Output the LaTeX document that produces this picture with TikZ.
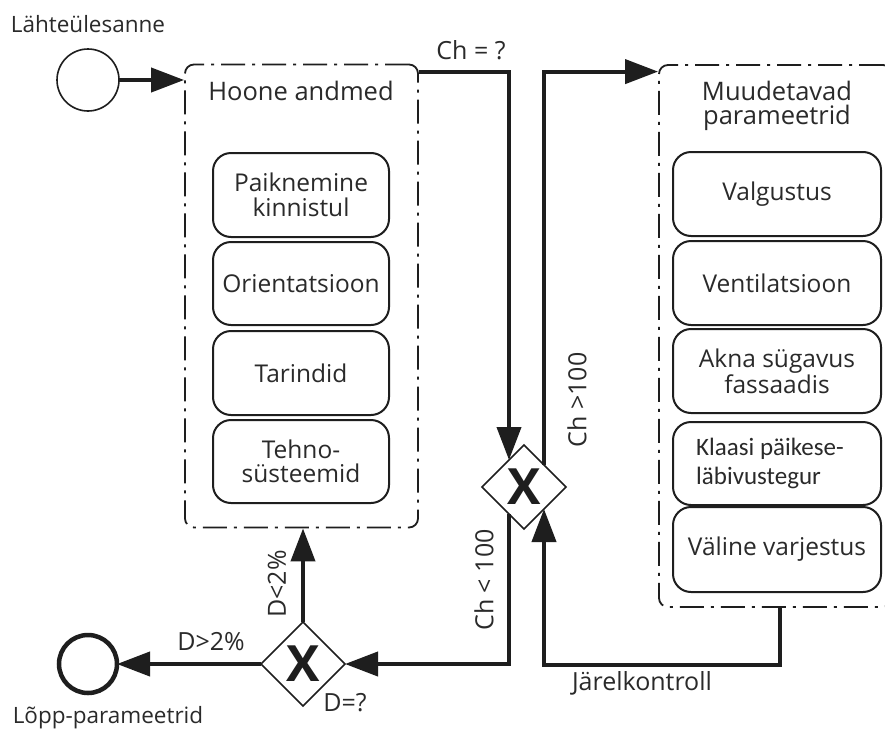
\documentclass[tikz,border=0pt]{standalone}
\usepackage{fontspec}
\setmainfont{Open Sans}
\newfontfamily\klaasifont{Carlito}
\usetikzlibrary{arrows.meta,shapes.geometric,calc}
\definecolor{ink}{HTML}{1E1E1E}
\definecolor{tc}{HTML}{2A2A2A}
\newcommand\mytxt{\fontsize{24.5}{24.5}\selectfont}
\newcommand\mytitletxt{\fontsize{25.5}{24.5}\selectfont}
\newcommand\mylbltxt{\fontsize{22.5}{24}\selectfont}
\newcommand\mybiglbl{\fontsize{25}{24}\selectfont}
\newcommand\mygatex{\fontsize{50}{50}\selectfont\bfseries}
\tikzset{
  conn/.style={draw=ink, line width=4pt, -{Triangle[length=33pt,width=24pt]}},
  pool/.style={draw=ink, line width=1.8pt, dash pattern=on 24pt off 7pt on 3pt off 7pt, rounded corners=9pt, inner sep=0},
  task/.style={draw=ink, line width=2pt, rounded corners=18pt, align=center, font=\mytxt, text=tc, inner sep=0},
  title/.style={align=center, font=\mytitletxt, text=tc, inner sep=0},
  gate/.style={diamond, draw=ink, line width=1.6pt, minimum width=84pt, minimum height=84pt, inner sep=0, outer sep=0, font=\mygatex, text=ink},
  lbl/.style={font=\mylbltxt, text=tc, inner sep=0},
  biglbl/.style={font=\mybiglbl, text=tc, inner sep=0},
}
\begin{document}
\begin{tikzpicture}[x=1pt,y=-1pt]
\useasboundingbox[fill=white] (0,0) rectangle (885,731);
% events
\node[circle, draw=ink, line width=1.6pt, minimum size=62pt, inner sep=0, outer sep=0] (start) at (88,80) {};
\node[lbl] (startlbl) at (88,24) {Lähteülesanne};
\node[circle, draw=ink, line width=4.5pt, minimum size=58pt, inner sep=0, outer sep=0] (end) at (88,664) {};
\node[lbl] (endlbl) at (108,718) {Lõpp-parameetrid};
% left pool
\node[pool, minimum width=233pt, minimum height=463pt] (hoone) at (301.5,296) {};
\node[title] (hoonet) at (301,91) {Hoone andmed};
\node[task, minimum width=176pt, minimum height=84pt] (p1) at (301,195) {Paiknemine\\kinnistul};
\node[task, minimum width=176pt, minimum height=83pt] (p2) at (301,283.5) {Orientatsioon};
\node[task, minimum width=176pt, minimum height=84pt] (p3) at (301,373) {Tarindid};
\node[task, minimum width=176pt, minimum height=83pt] (p4) at (301,461.5) {Tehno-\\süsteemid};
% right pool
\node[pool, minimum width=233pt, minimum height=542pt] (muud) at (775.5,336) {};
\node[title] (muudt) at (777,106) {Muudetavad\\parameetrid};
\node[task, minimum width=208pt, minimum height=84pt] (m1) at (777,194) {Valgustus};
\node[task, minimum width=208pt, minimum height=84pt] (m2) at (777,283) {Ventilatsioon};
\node[task, minimum width=208pt, minimum height=84pt] (m3) at (777,371) {Akna sügavus\\fassaadis};
\node[task, minimum width=208pt, minimum height=83pt] (m4) at (777,463.5) {};
\node[align=left, inner sep=0, text=tc, font={\klaasifont\fontsize{25}{29}\selectfont}] (m4t) at (770,463.5) {Klaasi päikese-\\läbivustegur};
\node[task, minimum width=208pt, minimum height=85pt] (m5) at (777,549.5) {Väline varjestus};
% gateways
\node[gate] (g1) at (524,487) {X};
\node[gate] (g2) at (303,664) {X};
% connectors
\coordinate (h1) at ($(hoone.north east)+(0,8)$);
\coordinate (mx) at (780,0);
\draw[conn] (start.east) -- (start -| hoone.west);
\draw[conn] (h1) -| ($(g1.north)+(-15,15)$);
\draw[conn] ($(g1.north)+(20,20)$) |- (muud.west |- h1);
\draw[conn] (muud.south -| mx) -- ++(0,57) -| ($(g1.south)+(20,-20)$);
\draw[conn] ($(g1.south)+(-15,-15)$) |- (g2.east);
\draw[conn] (g2.north) -- (g2.north |- hoone.south);
\draw[conn] (g2.west) -- (end.east);
% labels
\node[biglbl] (chq) at (471,50) {Ch = ?};
\node[biglbl, rotate=90] (chgt) at (577,400) {Ch >100};
\node[biglbl, rotate=90] (chlt) at (484,580) {Ch < 100};
\node[biglbl, rotate=90] (dlt) at (277,584) {D<2\%};
\node[biglbl] (dgt) at (211,642) {D>2\%};
\node[biglbl] (deq) at (345,703) {D=?};
\node[biglbl] (jk) at (642,683) {Järelkontroll};
\end{tikzpicture}
\end{document}
